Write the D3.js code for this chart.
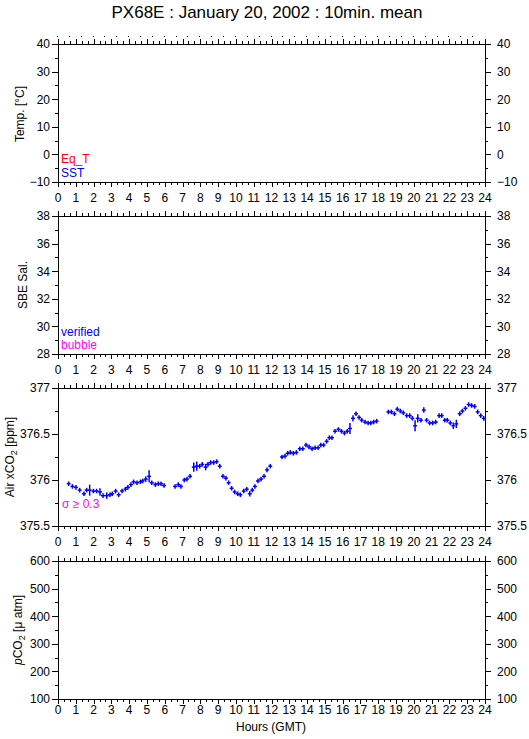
<!DOCTYPE html>
<html>
<head>
<meta charset="utf-8">
<script src="https://cdn.jsdelivr.net/npm/d3@7"></script>
<style>
  body { margin: 0; background: #fff; }
  svg { display: block; font-family: "Liberation Sans", Arial, Helvetica, sans-serif; }
</style>
</head>
<body>
<div id="chart"></div>
<script>
// tick labels
var hourTicks = [0,1,2,3,4,5,6,7,8,9,10,11,12,13,14,15,16,17,18,19,20,21,22,23,24];
var tempTicks = [-10,0,10,20,30,40];
var salTicks = [28,30,32,34,36,38];
var xco2Ticks = [375.5,376,376.5,377];
var pco2Ticks = [100,200,300,400,500,600];

// Air xCO2, 10 min means (hour GMT, ppm, std)
var hours = [0.60,0.81,1.01,1.22,1.46,1.61,1.78,1.99,2.17,2.36,2.53,2.74,2.92,3.05,3.24,3.41,3.60,3.79,3.93,4.10,
  4.25,4.44,4.63,4.76,4.93,5.12,5.27,5.47,5.64,5.79,5.96,
  6.58,6.76,6.91,7.10,7.25,7.42,7.63,7.80,7.96,8.11,8.30,8.43,8.58,8.75,8.92,9.09,9.27,9.44,9.59,
  9.76,9.93,10.10,10.25,10.44,10.61,10.78,10.92,11.07,11.24,11.41,11.58,11.75,11.93,
  12.59,12.76,12.91,13.06,13.23,13.40,13.59,13.76,13.94,14.11,14.28,14.45,14.62,14.77,14.93,15.10,
  15.25,15.40,15.57,15.76,15.93,16.10,16.26,16.41,16.58,16.75,16.92,17.07,17.26,17.43,17.58,17.74,17.91,
  18.57,18.74,18.91,19.07,19.24,19.41,19.60,19.77,19.92,20.07,20.22,20.40,20.56,20.72,20.89,21.06,
  21.23,21.42,21.57,21.74,21.88,22.05,22.22,22.39,22.58,22.73,22.90,23.08,23.25,23.42,23.59,23.76,23.93];
var xco2 = [375.96,375.93,375.92,375.89,375.85,375.89,375.89,375.88,375.88,375.87,375.83,375.83,375.84,375.85,375.88,375.84,375.88,375.90,375.92,375.95,
  375.98,375.97,375.98,375.99,376.01,376.04,375.97,375.95,375.96,375.96,375.94,
  375.93,375.95,375.93,376.00,376.01,376.04,376.14,376.15,376.15,376.17,376.14,376.17,376.19,376.19,376.20,376.15,376.04,376.02,375.97,
  375.91,375.87,375.85,375.84,375.88,375.90,375.85,375.89,375.93,375.99,376.01,376.04,376.11,376.15,
  376.25,376.26,376.29,376.30,376.29,376.30,376.34,376.34,376.38,376.36,376.34,376.35,376.35,376.38,376.38,376.42,
  376.46,376.46,376.53,376.55,376.53,376.51,376.53,376.56,376.67,376.72,376.68,376.65,376.63,376.62,376.62,376.63,376.64,
  376.74,376.74,376.72,376.77,376.75,376.73,376.70,376.70,376.67,376.59,376.67,376.65,376.76,376.65,376.62,376.62,
  376.63,376.70,376.70,376.65,376.65,376.62,376.59,376.61,376.72,376.75,376.78,376.82,376.81,376.80,376.74,376.70,376.67];
var xco2Sd = [0.025,0.025,0.025,0.025,0.025,0.025,0.06,0.025,0.025,0.04,0.025,0.035,0.025,0.025,0.025,0.025,0.025,0.025,0.025,0.025,
  0.025,0.025,0.025,0.025,0.03,0.065,0.025,0.025,0.025,0.025,0.025,
  0.025,0.025,0.025,0.025,0.025,0.025,0.05,0.05,0.025,0.025,0.035,0.025,0.025,0.025,0.025,0.025,0.025,0.025,0.025,
  0.025,0.025,0.025,0.025,0.025,0.025,0.03,0.025,0.025,0.025,0.025,0.025,0.025,0.025,
  0.025,0.025,0.025,0.025,0.025,0.025,0.025,0.025,0.025,0.025,0.025,0.025,0.025,0.025,0.025,0.025,
  0.025,0.025,0.025,0.025,0.025,0.025,0.025,0.06,0.035,0.025,0.025,0.025,0.025,0.025,0.025,0.025,0.025,
  0.025,0.025,0.025,0.025,0.025,0.025,0.025,0.025,0.025,0.06,0.045,0.025,0.03,0.025,0.025,0.025,
  0.025,0.025,0.025,0.025,0.025,0.025,0.035,0.045,0.025,0.025,0.025,0.025,0.025,0.025,0.025,0.025,0.025];

// faint marks above the first panel (every 40 min)
var topMarks = [0,0.667,1.333,2,2.667,3.333,4,4.667,5.333,6,6.667,7.333,8,8.667,9.333,10,10.667,11.333,
  12,12.667,13.333,14,14.667,15.333,16,16.667,17.333,18,18.667,19.333,20,20.667,21.333,22,22.667,23.333];

var width = 529, height = 739;
var left = 58, right = 485;
var panelH = 138;
var fs = "12px";

var svg = d3.select("#chart").append("svg")
    .attr("width", width)
    .attr("height", height);

var x = d3.scaleLinear().domain([0, 24]).range([left, right]);

// minor ticks in between the labelled ones
function minors(ticks, parts) {
  var out = [];
  for (var i = 0; i < ticks.length - 1; i++) {
    for (var k = 1; k < parts; k++) {
      out.push(ticks[i] + (ticks[i+1] - ticks[i]) * k / parts);
    }
  }
  return out;
}

var panels = [
  {top: 44,  domain: [-10, 40],    ticks: tempTicks, label: "Temp. [°C]", lx: 20, ly: 114},
  {top: 216, domain: [28, 38],     ticks: salTicks,  label: "SBE Sal.",   lx: 23, ly: 285},
  {top: 388, domain: [375.5, 377], ticks: xco2Ticks, label: "xco2",       lx: 10, ly: 457},
  {top: 561, domain: [100, 600],   ticks: pco2Ticks, label: "pco2",       lx: 18, ly: 630}
];

panels.forEach(function (p, i) {
  var bottom = p.top + panelH;
  p.y = d3.scaleLinear().domain(p.domain).range([bottom, p.top]);
  var g = svg.append("g");

  // x ticks top and bottom
  g.append("g").attr("transform", "translate(0," + p.top + ")")
    .call(d3.axisTop(x).tickValues(minors(hourTicks, 3)).tickSize(3).tickSizeOuter(0).tickFormat(""));
  g.append("g").attr("transform", "translate(0," + p.top + ")")
    .call(d3.axisTop(x).tickValues(hourTicks).tickSize(5).tickSizeOuter(0).tickFormat(""));
  g.append("g").attr("transform", "translate(0," + bottom + ")")
    .call(d3.axisBottom(x).tickValues(minors(hourTicks, 3)).tickSize(3).tickSizeOuter(0).tickFormat(""));
  g.append("g").attr("transform", "translate(0," + bottom + ")")
    .call(d3.axisBottom(x).tickValues(hourTicks).tickSize(5).tickSizeOuter(0).tickFormat(""));

  // y ticks left and right
  g.append("g").attr("transform", "translate(" + left + ",0)")
    .call(d3.axisLeft(p.y).tickValues(minors(p.ticks, 2)).tickSize(3).tickSizeOuter(0).tickFormat(""));
  g.append("g").attr("class", "ylab").attr("transform", "translate(" + left + ",0)")
    .call(d3.axisLeft(p.y).tickValues(p.ticks).tickSize(6).tickPadding(2).tickSizeOuter(0).tickFormat(d3.format("~g")));
  g.append("g").attr("transform", "translate(" + right + ",0)")
    .call(d3.axisRight(p.y).tickValues(minors(p.ticks, 2)).tickSize(3).tickSizeOuter(0).tickFormat(""));
  g.append("g").attr("class", "ylab").attr("transform", "translate(" + right + ",0)")
    .call(d3.axisRight(p.y).tickValues(p.ticks).tickSize(6).tickPadding(6).tickSizeOuter(0).tickFormat(d3.format("~g")));

  // hour labels under the panel
  var lb = i === 3 ? bottom + 15 : bottom + 20;
  g.selectAll("text.hr").data(hourTicks).enter().append("text")
    .attr("class", "hr")
    .attr("x", function (d) { return x(d); })
    .attr("y", lb)
    .attr("text-anchor", "middle")
    .attr("font-size", fs)
    .text(function (d) { return d; });

  // frame
  g.append("rect")
    .attr("x", left).attr("y", p.top)
    .attr("width", right - left).attr("height", panelH)
    .attr("fill", "none").attr("stroke", "#000").attr("shape-rendering", "crispEdges");

  // y title
  var t = g.append("text")
    .attr("transform", "translate(" + p.lx + "," + p.ly + ") rotate(-90)")
    .attr("text-anchor", "middle")
    .attr("dy", "0.35em")
    .attr("font-size", fs);
  if (p.label === "xco2") {
    t.append("tspan").text("Air xCO");
    t.append("tspan").attr("font-size", "9px").attr("dy", "3").text("2");
    t.append("tspan").attr("dy", "-3").text(" [ppm]");
  } else if (p.label === "pco2") {
    t.append("tspan").attr("font-style", "italic").text("p");
    t.append("tspan").text("CO");
    t.append("tspan").attr("font-size", "9px").attr("dy", "3").text("2");
    t.append("tspan").attr("dy", "-3").text(" [\u03bc atm]");
  } else {
    t.text(p.label);
  }
});

svg.selectAll(".domain").remove();
svg.selectAll(".tick line").attr("stroke", "#000").attr("shape-rendering", "crispEdges");
svg.selectAll(".ylab text").attr("font-size", fs).attr("fill", "#000").attr("font-family", null);

// marks above panel 1
svg.selectAll("rect.mk").data(topMarks).enter().append("rect")
  .attr("class", "mk")
  .attr("x", function (d) { return Math.round(x(d)) - 1; })
  .attr("y", 36)
  .attr("width", 1).attr("height", 1)
  .attr("fill", "#000");

// legends
var legends = [
  {text: "Eq_T", color: "#ff0000", x: 61, y: 163},
  {text: "SST", color: "#0000ff", x: 61, y: 177},
  {text: "verified", color: "#0000ff", x: 61, y: 336},
  {text: "bubble", color: "#ff00ff", x: 61, y: 349},
  {text: "\u03c3 \u2265 0.3", color: "#ff00ff", x: 62, y: 508}
];
svg.selectAll("text.leg").data(legends).enter().append("text")
  .attr("class", "leg")
  .attr("x", function (d) { return d.x; })
  .attr("y", function (d) { return d.y; })
  .attr("fill", function (d) { return d.color; })
  .attr("font-size", fs)
  .text(function (d) { return d.text; });

// xCO2 crosses
var yC = panels[2].y;
var pts = hours.map(function (h, i) { return {h: h, v: xco2[i], sd: xco2Sd[i]}; });
var cross = svg.append("g").attr("stroke", "#0000ff").attr("stroke-width", 1.5);
cross.selectAll("line.v").data(pts).enter().append("line")
  .attr("x1", function (d) { return x(d.h); })
  .attr("x2", function (d) { return x(d.h); })
  .attr("y1", function (d) { return yC(d.v - d.sd); })
  .attr("y2", function (d) { return yC(d.v + d.sd); });
cross.selectAll("line.h").data(pts).enter().append("line")
  .attr("x1", function (d) { return x(d.h - 0.11); })
  .attr("x2", function (d) { return x(d.h + 0.11); })
  .attr("y1", function (d) { return yC(d.v); })
  .attr("y2", function (d) { return yC(d.v); });

// titles
svg.append("text")
  .attr("x", 267).attr("y", 18)
  .attr("text-anchor", "middle")
  .attr("font-size", "17px")
  .text("PX68E : January 20, 2002 : 10min. mean");

svg.append("text")
  .attr("x", 271).attr("y", 731)
  .attr("text-anchor", "middle")
  .attr("font-size", fs)
  .text("Hours (GMT)");
</script>
</body>
</html>
